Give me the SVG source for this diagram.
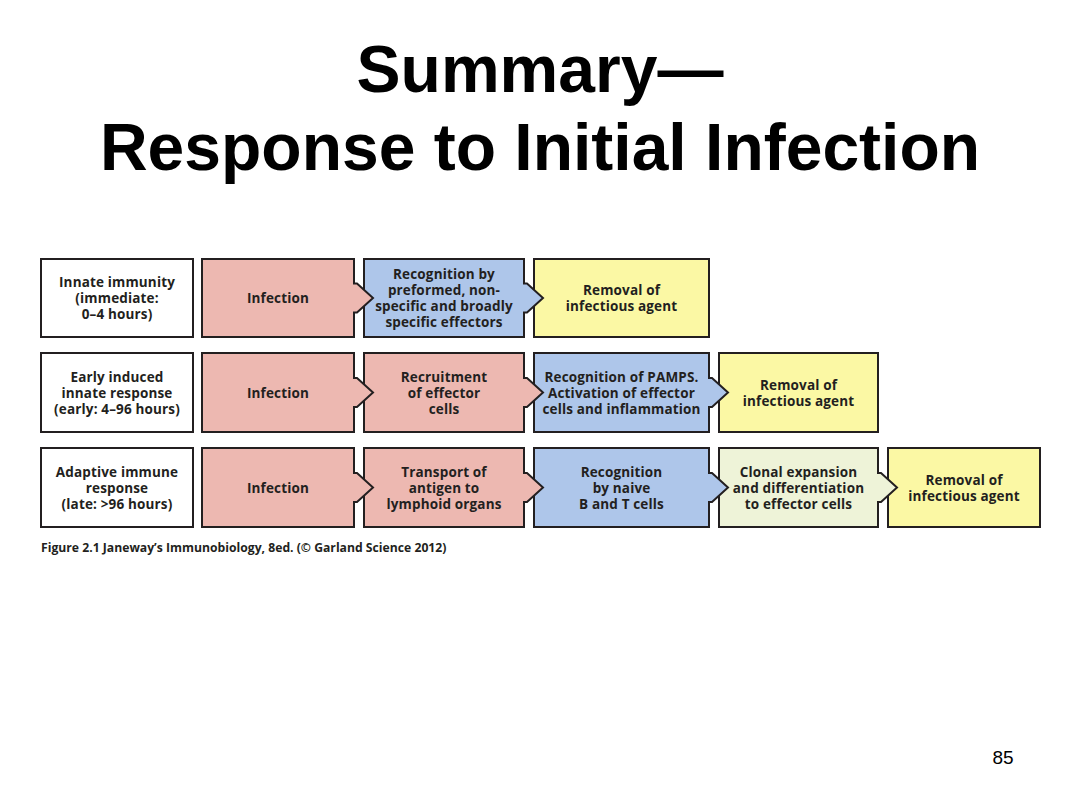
<svg xmlns="http://www.w3.org/2000/svg" width="1080" height="810" viewBox="0 0 1080 810">
<style>
.title{font-family:"Liberation Sans",Arial,sans-serif;font-weight:bold;font-size:66px;fill:#000;text-anchor:middle}
.t{font-family:"Open Sans","Noto Sans",sans-serif;font-weight:700;font-size:13.5px;letter-spacing:0.15px;fill:#231f20;text-anchor:middle}
.box{stroke:#231f20;stroke-width:2;stroke-linejoin:miter}
.lab{fill:#ffffff}
.pink{fill:#edb8b1}
.blue{fill:#aec6ea}
.yel{fill:#fbf8a4}
.grn{fill:#eef3d8}
.cap{font-family:"Open Sans","Noto Sans",sans-serif;font-weight:700;font-size:12.2px;fill:#231f20}
.pg{font-family:"Liberation Sans",Arial,sans-serif;font-size:19px;fill:#000}
</style>
<rect width="1080" height="810" fill="#ffffff"/>
<text class="title" x="540" y="92">Summary—</text>
<text class="title" x="540" y="170">Response to Initial Infection</text>

<!-- Row 1 -->
<g id="r1-label"><rect class="box lab" x="41" y="259" width="152" height="78"/>
<text class="t" x="117" y="287">Innate immunity</text><text class="t" x="117" y="303">(immediate:</text><text class="t" x="117" y="319">0–4 hours)</text></g>
<g id="r1-removal"><rect class="box yel" x="534" y="259" width="175" height="78"/>
<text class="t" x="621.5" y="295">Removal of</text><text class="t" x="621.5" y="311">infectious agent</text></g>
<g id="r1-recognition"><path class="box blue" d="M364,259 H524 V283.5 H527 L543,298 L527,312.5 H524 V337 H364 Z"/>
<text class="t" x="444" y="279">Recognition by</text><text class="t" x="444" y="295">preformed, non-</text><text class="t" x="444" y="311">specific and broadly</text><text class="t" x="444" y="327">specific effectors</text></g>
<g id="r1-infection"><path class="box pink" d="M202,259 H354 V283.5 H357 L373,298 L357,312.5 H354 V337 H202 Z"/>
<text class="t" x="278" y="303">Infection</text></g>

<!-- Row 2 -->
<g id="r2-label"><rect class="box lab" x="41" y="353" width="152" height="79"/>
<text class="t" x="117" y="382">Early induced</text><text class="t" x="117" y="398">innate response</text><text class="t" x="117" y="414">(early: 4–96 hours)</text></g>
<g id="r2-removal"><rect class="box yel" x="719" y="353" width="159" height="79"/>
<text class="t" x="798.5" y="390">Removal of</text><text class="t" x="798.5" y="406">infectious agent</text></g>
<g id="r2-pamps"><path class="box blue" d="M534,353 H709 V378 H712 L728,392.5 L712,407 H709 V432 H534 Z"/>
<text class="t" x="621.5" y="382">Recognition of PAMPS.</text><text class="t" x="621.5" y="398">Activation of effector</text><text class="t" x="621.5" y="414">cells and inflammation</text></g>
<g id="r2-recruit"><path class="box pink" d="M364,353 H524 V378 H527 L543,392.5 L527,407 H524 V432 H364 Z"/>
<text class="t" x="444" y="382">Recruitment</text><text class="t" x="444" y="398">of effector</text><text class="t" x="444" y="414">cells</text></g>
<g id="r2-infection"><path class="box pink" d="M202,353 H354 V378 H357 L373,392.5 L357,407 H354 V432 H202 Z"/>
<text class="t" x="278" y="397.5">Infection</text></g>

<!-- Row 3 -->
<g id="r3-label"><rect class="box lab" x="41" y="448" width="152" height="79"/>
<text class="t" x="117" y="477">Adaptive immune</text><text class="t" x="117" y="493">response</text><text class="t" x="117" y="509">(late: &gt;96 hours)</text></g>
<g id="r3-removal"><rect class="box yel" x="888" y="448" width="152" height="79"/>
<text class="t" x="964" y="485">Removal of</text><text class="t" x="964" y="501">infectious agent</text></g>
<g id="r3-clonal"><path class="box grn" d="M719,448 H878 V473 H881 L897,487.5 L881,502 H878 V527 H719 Z"/>
<text class="t" x="798.5" y="477">Clonal expansion</text><text class="t" x="798.5" y="493">and differentiation</text><text class="t" x="798.5" y="509">to effector cells</text></g>
<g id="r3-recognition"><path class="box blue" d="M534,448 H709 V473 H712 L728,487.5 L712,502 H709 V527 H534 Z"/>
<text class="t" x="621.5" y="477">Recognition</text><text class="t" x="621.5" y="493">by naive</text><text class="t" x="621.5" y="509">B and T cells</text></g>
<g id="r3-transport"><path class="box pink" d="M364,448 H524 V473 H527 L543,487.5 L527,502 H524 V527 H364 Z"/>
<text class="t" x="444" y="477">Transport of</text><text class="t" x="444" y="493">antigen to</text><text class="t" x="444" y="509">lymphoid organs</text></g>
<g id="r3-infection"><path class="box pink" d="M202,448 H354 V473 H357 L373,487.5 L357,502 H354 V527 H202 Z"/>
<text class="t" x="278" y="492.5">Infection</text></g>

<g id="connectors"></g>

<text class="cap" x="41" y="552">Figure 2.1  Janeway’s Immunobiology, 8ed. (© Garland Science 2012)</text>
<text class="pg" x="1003" y="764" text-anchor="middle">85</text>
</svg>
